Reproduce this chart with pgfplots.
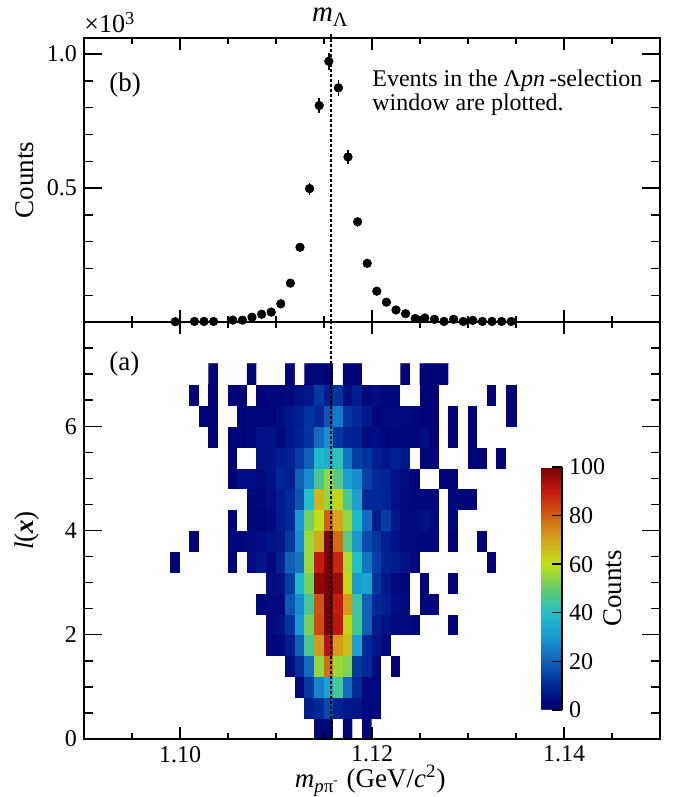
\documentclass[border=0pt]{standalone}
\usepackage{fontspec}
\setmainfont{Liberation Serif}
\usepackage{pgfplots}
\usepackage{pgfplotstable}
\pgfplotsset{compat=1.18}
\usetikzlibrary{calc}

\newcommand\tickfont{\fontsize{12}{14}\selectfont}
\newcommand\labfont{\fontsize{13.5}{16}\selectfont}
\newcommand\txtfont{\fontsize{12}{10.4}\selectfont}

\pgfplotsset{
  tick label style={font=\tickfont},
  /pgf/number format/assume math mode=true,
  panel/.style={
    scale only axis, width=288pt,
    xmin=1.09, xmax=1.15,
    xtick={1.10,1.12,1.14},
    minor xtick={1.095,1.105,1.11,1.115,1.125,1.13,1.135,1.145},
    xticklabel style={/pgf/number format/fixed,/pgf/number format/fixed zerofill,/pgf/number format/precision=2},
    tick align=inside, tick pos=both,
    axis line style={line width=0.8pt},
    every tick/.style={black, line width=0.7pt},
    xtick style={/pgfplots/major tick length=6pt,/pgfplots/minor tick length=3pt},
    ytick style={/pgfplots/major tick length=9pt,/pgfplots/minor tick length=4.5pt},
    every axis y label/.style={at={(axis description cs:-0.0885,0.5)}, anchor=base, rotate=90, inner sep=0pt, font=\labfont},
    every axis x label/.style={at={(axis description cs:0.497,-0.1175)}, anchor=base, inner sep=0pt, font=\labfont},
    axis on top,
  },
  colormap={rootjet}{
    rgb255(0cm)=(255,255,255)
    rgb255(0.5cm)=(0,0,112)
    rgb255(5cm)=(0,12,130)
    rgb255(10cm)=(0,40,150)
    rgb255(20cm)=(16,96,184)
    rgb255(30cm)=(24,152,212)
    rgb255(40cm)=(32,192,200)
    rgb255(50cm)=(100,204,110)
    rgb255(60cm)=(192,224,20)
    rgb255(70cm)=(212,168,28)
    rgb255(80cm)=(210,96,16)
    rgb255(90cm)=(196,24,16)
    rgb255(100cm)=(120,0,0)
  },
}

% projection onto m(p pi-), counts in units of 10^3
\pgfplotstableread{
x y e
1.0995 0.001 0.0010
1.1015 0.002 0.0014
1.1025 0.002 0.0014
1.1035 0.002 0.0014
1.1055 0.007 0.0026
1.1065 0.007 0.0026
1.1075 0.018 0.0042
1.1085 0.029 0.0054
1.1095 0.037 0.0061
1.1105 0.068 0.0082
1.1115 0.145 0.0120
1.1125 0.279 0.0167
1.1135 0.498 0.0223
1.1145 0.808 0.0284
1.1155 0.973 0.0312
1.1165 0.874 0.0296
1.1175 0.616 0.0248
1.1185 0.374 0.0193
1.1195 0.219 0.0148
1.1205 0.115 0.0107
1.1215 0.074 0.0086
1.1225 0.045 0.0067
1.1235 0.031 0.0056
1.1245 0.013 0.0036
1.1255 0.015 0.0039
1.1265 0.010 0.0032
1.1275 0.002 0.0014
1.1285 0.010 0.0032
1.1295 0.002 0.0014
1.1305 0.006 0.0024
1.1315 0.002 0.0014
1.1325 0.002 0.0014
1.1335 0.002 0.0014
1.1345 0.002 0.0014
}\projdata

% 2D histogram: 36 bins in m (1.099..1.135, 1 MeV), 18 bins in l(x) (0..7.2, 0.4)
% one line per l(x) bin, from the bottom row up
\pgfplotstableread[row sep=\\]{
c\\
0\\0\\0\\0\\0\\0\\0\\0\\0\\0\\0\\0\\0\\0\\0\\3\\3\\0\\2\\0\\2\\0\\0\\0\\0\\0\\0\\0\\0\\0\\0\\0\\0\\0\\0\\0\\
0\\0\\0\\0\\0\\0\\0\\0\\0\\0\\0\\0\\0\\0\\8\\10\\16\\9\\7\\7\\4\\3\\0\\0\\0\\0\\0\\0\\0\\0\\0\\0\\0\\0\\0\\0\\
0\\0\\0\\0\\0\\0\\0\\0\\0\\0\\0\\0\\0\\4\\13\\26\\32\\46\\22\\10\\4\\4\\0\\0\\0\\0\\0\\0\\0\\0\\0\\0\\0\\0\\0\\0\\
0\\0\\0\\0\\0\\0\\0\\0\\0\\0\\0\\0\\4\\11\\22\\55\\78\\56\\53\\13\\10\\4\\0\\2\\0\\0\\0\\0\\0\\0\\0\\0\\0\\0\\0\\0\\
0\\0\\0\\0\\0\\0\\0\\0\\0\\0\\3\\4\\8\\20\\46\\72\\92\\72\\66\\32\\10\\7\\4\\0\\0\\0\\0\\0\\0\\0\\0\\0\\0\\0\\0\\0\\
0\\0\\0\\0\\0\\0\\0\\0\\0\\0\\4\\6\\12\\30\\52\\83\\100\\91\\62\\45\\20\\8\\6\\4\\4\\3\\0\\0\\0\\2\\0\\0\\0\\0\\0\\0\\
0\\0\\0\\0\\0\\0\\0\\0\\0\\3\\4\\4\\18\\28\\46\\82\\100\\90\\72\\44\\20\\10\\8\\5\\4\\0\\3\\3\\0\\0\\0\\0\\0\\0\\0\\0\\
0\\0\\0\\0\\0\\0\\0\\0\\0\\0\\5\\6\\14\\38\\52\\97\\100\\95\\61\\31\\33\\12\\7\\4\\3\\0\\3\\0\\0\\2\\0\\0\\0\\0\\0\\0\\
2\\0\\0\\0\\0\\0\\2\\0\\5\\7\\4\\9\\20\\24\\56\\90\\100\\88\\58\\40\\24\\14\\9\\8\\6\\4\\0\\0\\0\\0\\0\\0\\0\\2\\0\\0\\
0\\0\\2\\0\\0\\0\\3\\3\\4\\5\\6\\7\\13\\28\\56\\70\\100\\78\\48\\30\\16\\12\\8\\6\\4\\4\\3\\3\\0\\2\\0\\0\\2\\0\\0\\0\\
0\\0\\0\\0\\0\\0\\2\\0\\3\\2\\4\\8\\10\\30\\52\\60\\80\\70\\55\\38\\22\\8\\14\\7\\4\\4\\6\\4\\0\\3\\0\\0\\0\\0\\0\\0\\
0\\0\\0\\0\\0\\0\\0\\0\\3\\3\\5\\8\\10\\18\\40\\68\\55\\62\\46\\32\\10\\10\\9\\6\\4\\3\\3\\3\\0\\3\\2\\2\\0\\0\\0\\0\\
0\\0\\0\\0\\0\\0\\2\\5\\5\\4\\6\\10\\8\\20\\28\\46\\55\\48\\32\\28\\14\\10\\9\\6\\5\\3\\0\\0\\2\\2\\0\\0\\0\\0\\0\\0\\
0\\0\\0\\0\\0\\0\\2\\0\\0\\6\\6\\8\\9\\14\\20\\38\\36\\42\\24\\14\\12\\8\\7\\9\\7\\0\\3\\3\\0\\0\\0\\2\\2\\0\\2\\0\\
0\\0\\0\\0\\2\\0\\2\\2\\3\\6\\6\\4\\7\\9\\12\\22\\28\\12\\9\\9\\4\\5\\2\\3\\3\\3\\5\\2\\0\\2\\0\\2\\0\\0\\0\\0\\
0\\0\\0\\2\\2\\0\\0\\2\\3\\3\\2\\5\\7\\8\\12\\10\\18\\25\\12\\10\\7\\3\\4\\4\\4\\3\\2\\2\\0\\2\\0\\2\\0\\0\\0\\2\\
0\\0\\2\\0\\2\\0\\2\\2\\0\\2\\3\\3\\4\\6\\7\\13\\8\\12\\5\\8\\3\\5\\3\\3\\0\\0\\2\\2\\0\\0\\0\\0\\0\\2\\0\\2\\
0\\0\\0\\0\\2\\0\\0\\0\\2\\0\\0\\0\\2\\0\\2\\3\\2\\0\\2\\2\\0\\0\\0\\0\\2\\0\\2\\2\\2\\0\\0\\0\\0\\0\\0\\0\\
}\histdata

\begin{document}
\begin{tikzpicture}
\useasboundingbox (-42pt,-29pt) rectangle (298pt,369.5pt);

% (a) l(x) versus m(p pi-)
\begin{axis}[panel, name=bot, at={(0,0)}, anchor=south west,
  height=208.5pt, ymin=0, ymax=8,
  ytick={0,2,4,6}, minor ytick={0,0.5,...,8},
  xlabel={\textit{m}\textsubscript{\textit{p}π\textsuperscript{-}} (GeV/\textit{c}\textsuperscript{2})},
  ylabel={\textit{l}(\textbf{\textit{x}})},
  colormap name=rootjet, point meta min=0, point meta max=100,
  colorbar shift/.style={},
  colorbar,
  colorbar style={
    at={($(parent axis.south west)+(228.5pt,14.5pt)$)}, anchor=south west,
    scale only axis, width=10.5pt, height=121.5pt,
    axis x line=none, axis y line*=right, y axis line style={-, line width=0.7pt},
    ytick={0,20,...,100}, ytick pos=right, yticklabel pos=right,
    tick align=inside, every tick/.style={black, line width=0.7pt},
    ytick style={/pgfplots/major tick length=5pt},
    yticklabel style={font=\tickfont},
    every axis y label/.style={at={(axis description cs:2.95,0.5)}, anchor=north, rotate=90, inner sep=0pt, font=\labfont},
    ylabel={Counts},
  },
]
\addplot[matrix plot*, mesh/cols=36, mesh/rows=18, point meta=explicit]
  table[x index=0, y index=0,
        x expr={1.0995+0.001*(\coordindex-36*floor((\coordindex+0.5)/36))},
        y expr={0.2+0.4*floor((\coordindex+0.5)/36)}, meta=c] {\histdata};
\addplot[black, line width=1pt, dash pattern=on 1.5pt off 1pt] coordinates {(1.115683,0) (1.115683,8)};
\node[anchor=base west, font=\labfont, inner sep=0pt] at (axis cs:1.0926,7.06) {(a)};
\end{axis}

% (b) projection
\begin{axis}[panel, at={(bot.north west)}, anchor=south west,
  height=142pt, ymin=0, ymax=1.06, clip=false,
  ytick={0.5,1.0}, minor ytick={0.1,0.2,0.3,0.4,0.6,0.7,0.8,0.9},
  yticklabel style={/pgf/number format/fixed,/pgf/number format/fixed zerofill,/pgf/number format/precision=1},
  xticklabel=\empty,
  ylabel={Counts},
]
\addplot[black, only marks, mark=*, mark size=2.1pt,
  error bars/.cd, y dir=both, y explicit, error mark=none,
  error bar style={line width=0.8pt}]
  table[x=x, y=y, y error=e] {\projdata};
\addplot[black, line width=1pt, dash pattern=on 1.5pt off 1pt] coordinates {(1.115683,0) (1.115683,1.082)};
\node[anchor=base, font=\fontsize{14.5}{16}\selectfont, inner sep=0pt] at (axis cs:1.11566,1.06) [yshift=8pt] {\textit{m}\textsubscript{Λ}};
\node[anchor=base west, font=\fontsize{13}{15}\selectfont, inner sep=0pt] at (axis description cs:0,1) [yshift=2.5pt] {×10\textsuperscript{3}};
\node[anchor=base west, font=\labfont, inner sep=0pt] at (axis cs:1.0926,0.86) {(b)};
\node[anchor=base west, font=\txtfont, inner sep=0pt, align=left] at (axis cs:1.1200,0.791)
  {Events in the Λ\textit{pn}\,-selection\\window are plotted.};
\end{axis}
\end{tikzpicture}
\end{document}
